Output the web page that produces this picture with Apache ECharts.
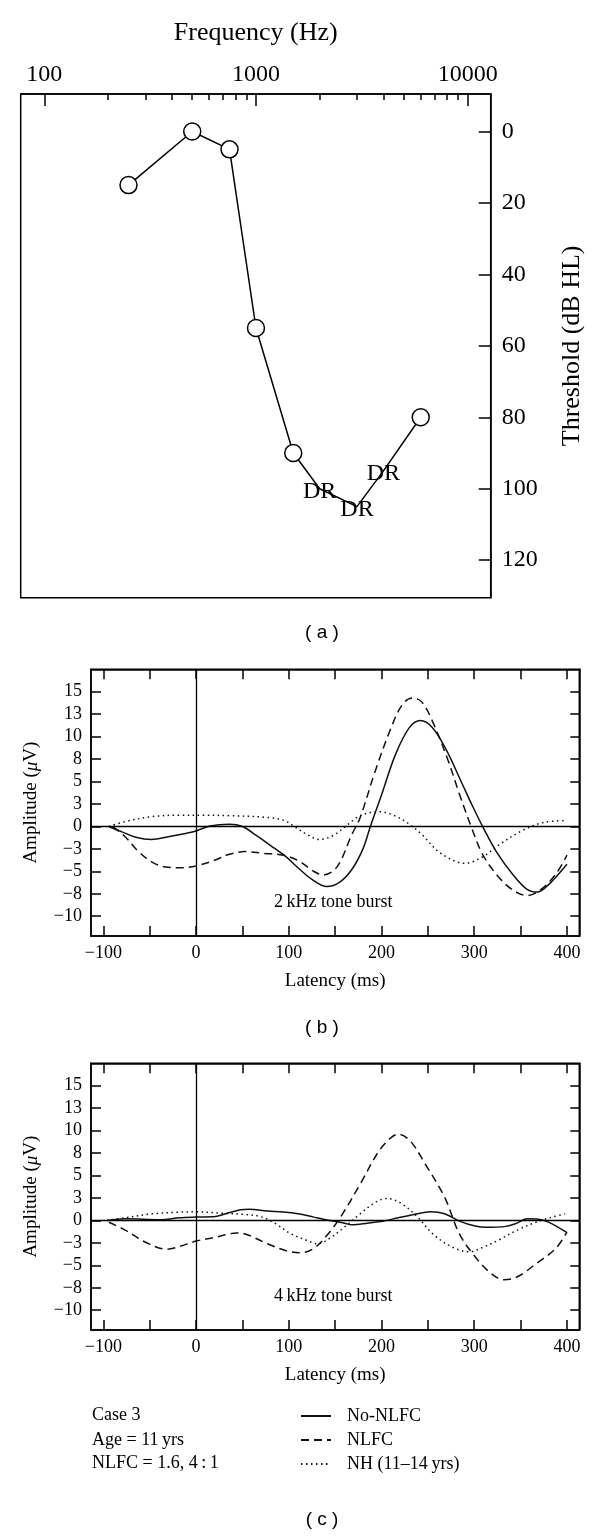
<!DOCTYPE html>
<html><head><meta charset="utf-8">
<script src="https://cdn.jsdelivr.net/npm/echarts@6/dist/echarts.min.js"></script>
<style>html,body{margin:0;padding:0;background:#fff}#c{width:600px;height:1536px}</style>
</head><body><div id="c"></div>
<script>
// ---- Panel (a): audiogram ----
const freqHz = [250, 500, 750, 1000, 1500, 2000, 3000, 4000, 6000];
const thresholdDb = [15, 0, 5, 55, 90, 100, 105, 95, 80];
const isDR = [false, false, false, false, false, true, true, true, false];
const freqMajorTicks = [100, 1000, 10000];
const freqMinorTicks = [200, 300, 400, 500, 600, 700, 800, 900, 2000, 3000, 4000, 5000, 6000, 7000, 8000, 9000];
const thresholdTicks = [0, 20, 40, 60, 80, 100, 120];

// ---- Panels (b), (c): latency axis ticks ----
const latTickValues = [-100, 0, 100, 200, 300, 400];
const latTickLabels = ['\u2212100', '0', '100', '200', '300', '400'];
const latMinorTicks = [-100, -50, 0, 50, 100, 150, 200, 250, 300, 350, 400];
const ampTickValues = [-10, -7.5, -5, -2.5, 0, 2.5, 5, 7.5, 10, 12.5, 15];
const ampTickLabels = ['\u221210', '\u22128', '\u22125', '\u22123', '0', '3', '5', '8', '10', '13', '15'];

// ---- Panel (b): 2 kHz tone burst ----
const b2kNoNlfcT = [-94,-80,-65,-48,-30,-10,0,15,36,50,65,80,95,110,125,141,155,168,180,188,200,215,230,242,255,270,285,298,309,325,342,357,368,380,390,400];
const b2kNoNlfcV = [0,-0.6,-1.2,-1.45,-1.15,-0.75,-0.5,0.05,0.25,0.0,-1.0,-2.1,-3.2,-4.6,-5.9,-6.7,-6.2,-4.8,-2.5,0,3.5,8.0,11.0,11.8,11.0,8.5,5.2,2.3,0,-3.0,-5.4,-7.0,-7.3,-6.5,-5.4,-4.2];
const b2kNlfcT = [-90,-76,-63,-47,-30,-14,0,19,36,53,73,94,110,127,137,152,168,177,193,210,222,233,243,255,272,284,297,309,326,342,357,371,388,400];
const b2kNlfcV = [0,-1.2,-2.7,-4.0,-4.55,-4.6,-4.4,-3.8,-3.1,-2.8,-3.0,-3.2,-3.8,-5.0,-5.4,-4.5,-0.9,1.0,6.1,10.9,13.5,14.3,13.9,11.7,7.3,3.6,-0.1,-3.1,-5.6,-7.1,-7.7,-7.1,-5.3,-3.2];
const b2kNhT = [-94,-76,-47,-18,7,36,77,94,106,119,133,148,164,177,197,214,230,243,264,290,309,326,351,375,400];
const b2kNhV = [0,0.55,1.1,1.25,1.25,1.2,1.0,0.7,0,-0.85,-1.45,-1.0,0.25,1.2,1.65,1.2,0.25,-0.85,-3.0,-4.1,-3.4,-2.1,-0.5,0.45,0.65];

// ---- Panel (c): 4 kHz tone burst ----
const c4kNoNlfcT = [-96,-76,-38,-18,0,19,32,48,57,77,94,110,127,144,160,168,185,202,218,235,253,268,284,301,313,334,346,357,367,380,400];
const c4kNoNlfcV = [0,0.18,0.07,0.3,0.37,0.4,0.75,1.18,1.25,1.05,0.95,0.75,0.37,0,-0.3,-0.48,-0.3,-0.07,0.3,0.66,0.96,0.74,-0.07,-0.63,-0.77,-0.66,-0.3,0.18,0.15,-0.18,-1.36];
const c4kNlfcT = [-94,-76,-55,-32,-18,0,20,44,53,77,98,113,127,140,156,177,197,210,218,231,247,268,284,301,318,332,346,367,388,400];
const c4kNlfcV = [-0.2,-1.1,-2.4,-3.2,-2.9,-2.3,-1.9,-1.4,-1.5,-2.6,-3.4,-3.6,-3.1,-1.8,0.4,4.05,7.7,9.2,9.6,8.85,6.3,2.6,-1.5,-4.05,-5.9,-6.6,-6.3,-4.8,-3.1,-1.3];
const c4kNhT = [-96,-76,-47,-18,0,28,53,69,86,102,119,131,144,160,177,193,206,222,239,255,276,295,309,326,346,367,384,398];
const c4kNhV = [0,0.3,0.74,0.92,0.96,0.81,0.66,0.44,-0.37,-1.47,-2.2,-2.6,-2.0,-0.74,0.74,2.0,2.45,1.84,0.37,-1.47,-2.95,-3.5,-3.0,-2.2,-1.1,-0.18,0.37,0.74];

const seriesNames = ['No-NLFC', 'NLFC', 'NH (11\u201314\u2009yrs)'];
const panelNotes = ['2\u2009kHz tone burst', '4\u2009kHz tone burst'];
const caseInfo = ['Case 3', 'Age = 11\u2009yrs', 'NLFC = 1.6, 4\u2009:\u20091'];

const SERIF = '"Liberation Serif", "DejaVu Serif", serif';
const INK = '#111';
const zip = (t, v) => t.map((x, i) => [x, v[i]]);
const pick = (vals, labels) => (val) => {
  let best = 0, d = Infinity;
  vals.forEach((x, i) => { const dd = Math.abs(x - val); if (dd < d) { d = dd; best = i; } });
  return labels[best];
};
const lineStyles = [
  { type: 'solid', width: 1.5, color: INK },
  { type: [8, 5], width: 1.5, color: INK },
  { type: [1.5, 3.5], width: 1.5, color: INK }
];

const latMin = -113.3, latMax = 413.3, ampMin = -12.2, ampMax = 17.5;
const panelTops = [669.3, 1063.3];
const panelH = 266.7;

const chart = echarts.init(document.getElementById('c'), null, { renderer: 'canvas' });

const grids = [
  { left: 20.7, top: 94, width: 470, height: 503.7, show: true, borderColor: '#000', borderWidth: 1.5, backgroundColor: 'transparent' }
];
panelTops.forEach(t => grids.push({ left: 91, top: t, width: 488.3, height: panelH, show: true, borderColor: '#000', borderWidth: 1.5, backgroundColor: 'transparent' }));

const axisLineBlack = { show: true, onZero: false, lineStyle: { color: '#000', width: 1.5 } };
const axisLineNone = { show: false, onZero: false };

const xAxes = [
  { gridIndex: 0, type: 'log', logBase: 10, position: 'top', min: 77.4, max: 12845,
    name: 'Frequency (Hz)', nameLocation: 'middle', nameGap: 48,
    nameTextStyle: { fontFamily: SERIF, fontSize: 26, color: '#000' },
    axisLine: axisLineBlack, splitLine: { show: false },
    axisTick: { show: true, inside: true, length: 12, customValues: freqMajorTicks, lineStyle: { color: '#000', width: 1.5 } },
    axisLabel: { show: true, margin: 7, customValues: freqMajorTicks, fontFamily: SERIF, fontSize: 24, color: '#000', formatter: v => String(Math.round(v)) } },
  { gridIndex: 0, type: 'log', logBase: 10, position: 'top', min: 77.4, max: 12845,
    axisLine: axisLineNone, splitLine: { show: false },
    axisTick: { show: true, inside: true, length: 6, customValues: freqMinorTicks, lineStyle: { color: '#000', width: 1.5 } },
    axisLabel: { show: false } }
];
const yAxes = [
  { gridIndex: 0, type: 'value', position: 'right', inverse: true, min: -10.5, max: 130.5,
    name: 'Threshold (dB HL)', nameLocation: 'middle', nameGap: 68, nameRotate: 90,
    nameTextStyle: { fontFamily: SERIF, fontSize: 26, color: '#000' },
    axisLine: axisLineBlack, splitLine: { show: false },
    axisTick: { show: true, inside: true, length: 12, customValues: thresholdTicks, lineStyle: { color: '#000', width: 1.5 } },
    axisLabel: { show: true, margin: 11, customValues: thresholdTicks, fontFamily: SERIF, fontSize: 24, color: '#000' } }
];

[1, 2].forEach(g => {
  xAxes.push({ gridIndex: g, type: 'value', position: 'bottom', min: latMin, max: latMax,
    name: 'Latency (ms)', nameLocation: 'middle', nameGap: 36,
    nameTextStyle: { fontFamily: SERIF, fontSize: 19, color: '#000' },
    axisLine: axisLineBlack, splitLine: { show: false },
    axisTick: { show: true, inside: true, length: 10, customValues: latMinorTicks, lineStyle: { color: '#000', width: 1.5 } },
    axisLabel: { show: true, margin: 8, customValues: latTickValues, fontFamily: SERIF, fontSize: 18, color: '#000', formatter: pick(latTickValues, latTickLabels) } });
  xAxes.push({ gridIndex: g, type: 'value', position: 'top', min: latMin, max: latMax,
    axisLine: axisLineBlack, splitLine: { show: false },
    axisTick: { show: true, inside: true, length: 10, customValues: latMinorTicks, lineStyle: { color: '#000', width: 1.5 } },
    axisLabel: { show: false } });
  yAxes.push({ gridIndex: g, type: 'value', position: 'left', min: ampMin, max: ampMax,
    name: 'Amplitude ({i|\u03bc}V)', nameLocation: 'middle', nameGap: 50, nameRotate: 90,
    nameTextStyle: { fontFamily: SERIF, fontSize: 19, color: '#000', rich: { i: { fontFamily: SERIF, fontSize: 19, fontStyle: 'italic', color: '#000' } } },
    axisLine: axisLineBlack, splitLine: { show: false },
    axisTick: { show: true, inside: true, length: 10, customValues: ampTickValues, lineStyle: { color: '#000', width: 1.5 } },
    axisLabel: { show: true, margin: 9, customValues: ampTickValues, fontFamily: SERIF, fontSize: 18, color: '#000', formatter: pick(ampTickValues, ampTickLabels) } });
  yAxes.push({ gridIndex: g, type: 'value', position: 'right', min: ampMin, max: ampMax,
    axisLine: axisLineBlack, splitLine: { show: false },
    axisTick: { show: true, inside: true, length: 9, customValues: ampTickValues, lineStyle: { color: '#000', width: 1.5 } },
    axisLabel: { show: false } });
});

const noteLabel = { show: true, position: 'inside', color: '#000', opacity: 1, textBorderWidth: 0, fontFamily: SERIF };

const series = [];
// audiogram line
series.push({
  type: 'line', xAxisIndex: 0, yAxisIndex: 0, z: 3,
  data: zip(freqHz, thresholdDb),
  symbol: 'circle',
  symbolSize: (val, p) => isDR[p.dataIndex] ? 0 : 17,
  itemStyle: { color: '#fff', borderColor: '#000', borderWidth: 1.5 },
  lineStyle: { color: '#000', width: 1.5 },
  showAllSymbol: true
});
// DR labels
series.push({
  type: 'scatter', xAxisIndex: 0, yAxisIndex: 0, z: 4,
  data: zip(freqHz, thresholdDb).filter((d, i) => isDR[i]),
  symbolSize: 1, itemStyle: { color: '#fff', opacity: 0 },
  label: Object.assign({}, noteLabel, { offset: [0, 3], formatter: 'DR', fontSize: 24 })
});

const panelData = [
  [[b2kNoNlfcT, b2kNoNlfcV], [b2kNlfcT, b2kNlfcV], [b2kNhT, b2kNhV]],
  [[c4kNoNlfcT, c4kNoNlfcV], [c4kNlfcT, c4kNlfcV], [c4kNhT, c4kNhV]]
];
panelData.forEach((sets, p) => {
  const xi = 2 + p * 2, yi = 1 + p * 2;
  sets.forEach((s, k) => {
    const obj = {
      type: 'line', name: seriesNames[k], xAxisIndex: xi, yAxisIndex: yi,
      data: zip(s[0], s[1]), smooth: 0.35, symbol: 'none', showSymbol: false,
      lineStyle: lineStyles[k], itemStyle: { color: INK }, z: 3
    };
    if (k === 0) {
      obj.markLine = {
        silent: true, symbol: 'none', label: { show: false },
        lineStyle: { color: '#000', width: 1.3, type: 'solid' },
        data: [{ yAxis: 0 }, { xAxis: 0 }]
      };
    }
    series.push(obj);
  });
  series.push({
    type: 'scatter', xAxisIndex: xi, yAxisIndex: yi, z: 4,
    data: [[148, -8.4]], symbolSize: 1, itemStyle: { color: '#fff', opacity: 0 },
    label: Object.assign({}, noteLabel, { formatter: panelNotes[p], fontSize: 18 })
  });
});

const graphics = [];
const captions = ['( a )', '( b )', '( c )'];
const captionY = [633, 1028, 1520];
captions.forEach((c, i) => graphics.push({
  type: 'text', x: 322, y: captionY[i],
  style: { text: c, fontFamily: '"Liberation Sans", Arial, sans-serif', fontSize: 19, fill: '#000', align: 'center', verticalAlign: 'middle' }
}));
const infoY = [1415, 1440, 1463];
caseInfo.forEach((t, i) => graphics.push({
  type: 'text', x: 92, y: infoY[i],
  style: { text: t, fontFamily: SERIF, fontSize: 18, fill: '#000', align: 'left', verticalAlign: 'middle' }
}));

chart.setOption({
  animation: false,
  backgroundColor: '#fff',
  grid: grids,
  xAxis: xAxes,
  yAxis: yAxes,
  series: series,
  legend: {
    data: seriesNames, orient: 'vertical', left: 300, top: 1407, padding: 0,
    itemWidth: 30, itemHeight: 14, itemGap: 6, selectedMode: false,
    itemStyle: { opacity: 0 },
    textStyle: { fontFamily: SERIF, fontSize: 18, color: '#000', lineHeight: 18, padding: [0, 0, 0, 11] }
  },
  graphic: graphics
});
</script>
</body></html>
